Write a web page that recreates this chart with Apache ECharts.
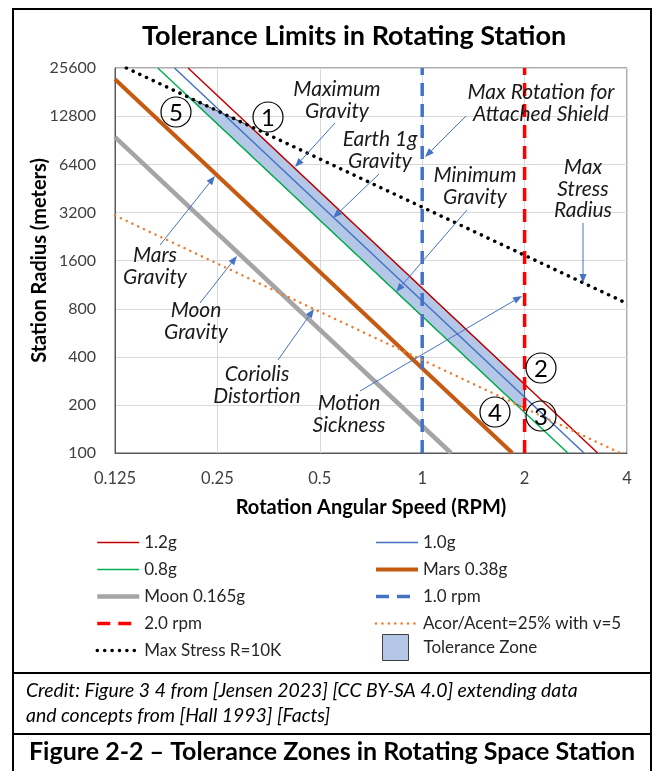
<!DOCTYPE html>
<html><head><meta charset="utf-8">
<script src="https://cdn.jsdelivr.net/npm/echarts@6/dist/echarts.min.js"></script>
<style>html,body{margin:0;padding:0;background:#fff}#c{width:656px;height:771px}</style>
</head><body><div id="c"></div>
<script>
// ---- data (RPM, radius in meters) ----
const xTickLabels = ['0.125', '0.25', '0.5', '1', '2', '4'];
const yTickLabels = ['100', '200', '400', '800', '1600', '3200', '6400', '12800', '25600'];
const g12 = [[0.205, 25600], [3.28, 100]];
const g10 = [[0.187, 25600], [2.99, 100]];
const g08 = [[0.167, 25600], [2.68, 100]];
const mars = [[0.125, 21760], [1.84, 100]];
const moon = [[0.125, 9450], [1.215, 100]];
const rpm1 = [[1, 100], [1, 25600]];
const rpm2 = [[2, 100], [2, 25600]];
const coriolis = [[0.125, 3060], [3.82, 100]];
const maxStress = [[0.135, 25600], [4, 862]];
const zone = [[0.2074, 16630], [0.3112, 11090], [2, 268], [2, 191], [1.874, 204]];

const FONT = 'Lato';
const chart = echarts.init(document.getElementById('c'), null, { renderer: 'canvas' });

function ls(name, data, color, width, type, cap, z) {
  return {
    type: 'line', name, data, symbol: 'none', showSymbol: false, silent: true,
    lineStyle: { color, width, type: type || 'solid', cap: cap || 'butt' },
    itemStyle: { color }, z: z || 3, clip: true
  };
}

function arrow(x1, y1, x2, y2) {
  const a = Math.atan2(y2 - y1, x2 - x1), L = 9, W = 3.5;
  const bx = x2 - L * Math.cos(a), by = y2 - L * Math.sin(a);
  const px = -Math.sin(a) * W, py = Math.cos(a) * W;
  return [
    { type: 'line', shape: { x1, y1, x2: bx, y2: by }, style: { stroke: '#4472c4', lineWidth: 1 }, z: 100 },
    { type: 'polygon', shape: { points: [[x2, y2], [bx + px, by + py], [bx - px, by - py]] }, style: { fill: '#4472c4' }, z: 100 }
  ];
}
function note(text, x, y) {
  return { type: 'text', z: 100, style: { text, x, y, align: 'center', verticalAlign: 'middle', fontFamily: FONT, fontStyle: 'italic', fontSize: 21, lineHeight: 21.5, fill: '#1a1a1a' } };
}
function badge(n, cx, cy) {
  return [
    { type: 'circle', z: 100, shape: { cx, cy, r: 15 }, style: { fill: 'none', stroke: '#000', lineWidth: 1.2 } },
    { type: 'text', z: 101, style: { text: n, x: cx, y: cy + 1, align: 'center', verticalAlign: 'middle', fontFamily: FONT, fontSize: 24, fill: '#000' } }
  ];
}
function hline(x1, x2, y) { return { type: 'line', z: 100, shape: { x1, y1: y, x2, y2: y }, style: { stroke: '#000', lineWidth: 2 } }; }
function vline(x, y1, y2) { return { type: 'line', z: 100, shape: { x1: x, y1, x2: x, y2 }, style: { stroke: '#000', lineWidth: 2 } }; }

const graphics = [].concat(
  [vline(13, 8, 771), vline(651, 8, 771), hline(12, 652, 9), hline(12, 652, 673), hline(12, 652, 734)],
  [note('Maximum\nGravity', 337, 100), note('Earth 1g\nGravity', 380, 150), note('Max Rotation for\nAttached Shield', 541, 103),
   note('Minimum\nGravity', 475, 186), note('Max\nStress\nRadius', 583, 189), note('Mars\nGravity', 155, 266),
   note('Moon\nGravity', 196, 321), note('Coriolis\nDistortion', 257, 385), note('Motion\nSickness', 349, 414)],
  arrow(335, 123, 295, 167), arrow(379, 174, 333, 218), arrow(466, 116, 425, 157), arrow(467, 210, 396, 292),
  arrow(583, 223, 583, 283), arrow(160, 245, 215, 176), arrow(200, 303, 237, 256), arrow(278, 360, 314, 309),
  arrow(360, 391, 522, 296),
  badge('5', 176, 112), badge('1', 268, 117), badge('2', 541, 368), badge('3', 541, 416), badge('4', 495, 412),
  [
    { type: 'text', z: 100, style: { text: 'Credit: Figure 3 4 from [Jensen 2023] [CC BY-SA 4.0] extending data\nand concepts from [Hall 1993] [Facts]', x: 26, y: 703, verticalAlign: 'middle', fontFamily: FONT, fontStyle: 'italic', fontSize: 19.4, lineHeight: 25, fill: '#000' } },
    { type: 'text', z: 100, style: { text: 'Figure 2-2 \u2013 Tolerance Zones in Rotating Space Station', x: 332, y: 752, align: 'center', verticalAlign: 'middle', fontFamily: FONT, fontWeight: 'bold', fontSize: 25, fill: '#000' } }
  ]
);

const legendCommon = {
  orient: 'vertical', itemWidth: 42, itemHeight: 14, itemGap: 10, padding: 0, selectedMode: false,
  textStyle: { fontFamily: FONT, fontSize: 17, lineHeight: 16, color: '#262626' },
  lineStyle: { width: 'inherit' }, itemStyle: { opacity: 0 }
};

const option = {
  animation: false,
  backgroundColor: '#fff',
  title: { text: 'Tolerance Limits in Rotating Station', left: 142, top: 23, padding: 0, textStyle: { fontFamily: FONT, fontWeight: 'bold', fontSize: 27, color: '#000' } },
  grid: { left: 115, top: 68, right: 29, bottom: 318, show: true, borderColor: '#595959', borderWidth: 1 },
  xAxis: {
    type: 'log', logBase: 2, min: 0.125, max: 4, interval: 1,
    name: 'Rotation Angular Speed (RPM)', nameLocation: 'middle', nameGap: 45,
    nameTextStyle: { fontFamily: FONT, fontWeight: 'bold', fontSize: 20, color: '#000' },
    axisLine: { show: true, lineStyle: { color: '#595959' } }, axisTick: { show: false },
    axisLabel: { fontFamily: FONT, fontSize: 16.5, color: '#404040', margin: 17,
      formatter: v => xTickLabels.find(t => Math.abs(+t - v) < 1e-6 * Math.max(1, v)) || String(+(+v).toPrecision(4)) },
    splitLine: { show: true, lineStyle: { color: '#d9d9d9' } }
  },
  yAxis: {
    type: 'log', logBase: 2, min: 100, max: 25600, interval: 1,
    name: 'Station Radius (meters)', nameLocation: 'middle', nameGap: 65, nameRotate: 90, nameMoveOverlap: false,
    nameTextStyle: { fontFamily: FONT, fontWeight: 'bold', fontSize: 20, color: '#000' },
    axisLine: { show: true, lineStyle: { color: '#595959' } }, axisTick: { show: false },
    axisLabel: { fontFamily: FONT, fontSize: 16, color: '#404040', margin: 19,
      formatter: v => yTickLabels.find(t => Math.abs(+t - v) < 0.01 * +t) || String(Math.round(v)) },
    splitLine: { show: true, lineStyle: { color: '#d9d9d9' } }
  },
  legend: [
    Object.assign({}, legendCommon, { left: 95, top: 534, data: ['1.2g', '0.8g', 'Moon 0.165g', '2.0 rpm', 'Max Stress R=10K'] }),
    Object.assign({}, legendCommon, { left: 374, top: 534, data: ['1.0g', 'Mars 0.38g', '1.0 rpm', 'Acor/Acent=25% with v=5'] }),
    { left: 382, top: 634, itemWidth: 26, itemHeight: 26, padding: 0, selectedMode: false,
      textStyle: { fontFamily: FONT, fontSize: 17, color: '#262626', padding: [0, 0, 0, 10] },
      data: [{ name: 'Tolerance Zone', icon: 'rect', itemStyle: { color: '#b4c7e7', borderColor: '#404040', borderWidth: 1 } }] }
  ],
  series: [
    {
      type: 'custom', name: 'Tolerance Zone', coordinateSystem: 'cartesian2d', data: zone, z: 1, silent: true,
      itemStyle: { color: '#b4c7e7', borderColor: '#404040', borderWidth: 1 },
      renderItem: (params, api) => params.dataIndex === 0 ? {
        type: 'polygon', shape: { points: zone.map(p => api.coord(p)) },
        style: { fill: '#b4c7e7', stroke: '#404040', lineWidth: 1 }
      } : null
    },
    ls('1.2g', g12, '#c00000', 1.5),
    ls('1.0g', g10, '#4472c4', 1.5),
    ls('0.8g', g08, '#00b050', 1.5),
    ls('Mars 0.38g', mars, '#c55a11', 4),
    ls('Moon 0.165g', moon, '#a5a5a5', 4.5),
    ls('1.0 rpm', rpm1, '#4472c4', 3.5, [13, 8]),
    ls('2.0 rpm', rpm2, '#ff0000', 3.5, [13, 8]),
    ls('Acor/Acent=25% with v=5', coriolis, '#ed7d31', 2.5, [0.1, 6.3], 'round'),
    ls('Max Stress R=10K', maxStress, '#000000', 3.5, [0.1, 7.3], 'round', 4)
  ],
  graphic: { elements: graphics }
};
chart.setOption(option);
</script>
</body></html>
